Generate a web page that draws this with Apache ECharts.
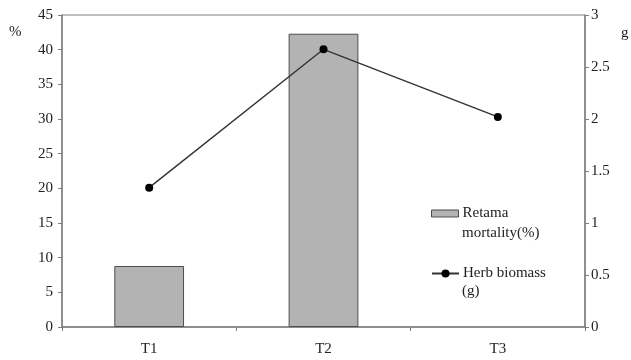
<!DOCTYPE html>
<html>
<head>
<meta charset="utf-8">
<script src="https://cdn.jsdelivr.net/npm/echarts@6/dist/echarts.min.js"></script>
<style>
  html, body { margin: 0; padding: 0; background: #fff; }
  #chart { width: 631px; height: 360px; }
</style>
</head>
<body>
<div id="chart"></div>
<script>
// Treatments along the x axis
const categories = ['T1', 'T2', 'T3'];
// Retama mortality (%), left axis
const mortality = [8.8, 42.3, null];
// Herb biomass (g), right axis
const biomass = [1.34, 2.67, 2.02];

const FONT = '"Liberation Serif", "DejaVu Serif", serif';
const FS = 15;
const axisGrey = '#7f7f7f';
const textColor = '#222';

const chart = echarts.init(document.getElementById('chart'), null, { renderer: 'canvas' });

chart.setOption({
  animation: false,
  backgroundColor: '#fff',
  grid: { left: 62, right: 46, top: 15, bottom: 33, show: true, borderColor: axisGrey, borderWidth: 1 },
  xAxis: {
    type: 'category',
    data: categories,
    axisLine: { lineStyle: { color: axisGrey, width: 1.5 } },
    axisTick: { show: true, alignWithLabel: false, length: 4, lineStyle: { color: axisGrey } },
    axisLabel: { color: textColor, fontFamily: FONT, fontSize: FS, margin: 15 },
    splitLine: { show: false }
  },
  yAxis: [
    {
      type: 'value', min: 0, max: 45, interval: 5,
      axisLine: { show: true, lineStyle: { color: axisGrey, width: 1.5 } },
      axisTick: { show: true, length: 4, lineStyle: { color: axisGrey } },
      axisLabel: { color: textColor, fontFamily: FONT, fontSize: FS, margin: 9 },
      splitLine: { show: false }
    },
    {
      type: 'value', min: 0, max: 3, interval: 0.5,
      axisLine: { show: true, lineStyle: { color: axisGrey, width: 1.5 } },
      axisTick: { show: true, length: 4, lineStyle: { color: axisGrey } },
      axisLabel: { color: textColor, fontFamily: FONT, fontSize: FS, margin: 6 },
      splitLine: { show: false }
    }
  ],
  legend: [
    {
      left: 431, top: 206, padding: 0, itemWidth: 27, itemHeight: 7, itemGap: 0,
      data: [{ name: 'Retama mortality(%)', icon: 'rect' }],
      formatter: () => 'Retama',
      itemStyle: { borderWidth: 1, borderColor: '#4d4d4d' },
      textStyle: { color: textColor, fontFamily: FONT, fontSize: FS, padding: [0, 0, 0, -1] }
    },
    {
      left: 431, top: 266, padding: 0, itemWidth: 27, itemHeight: 10, itemGap: 0,
      data: [{ name: 'Herb biomass (g)' }],
      formatter: () => 'Herb biomass',
      textStyle: { color: textColor, fontFamily: FONT, fontSize: FS, padding: [0, 0, 0, -1] }
    }
  ],
  graphic: [
    { type: 'text', left: 9, top: 25, style: { text: '%', font: FS + 'px ' + FONT, fill: textColor } },
    { type: 'text', left: 621, top: 26, style: { text: 'g', font: FS + 'px ' + FONT, fill: textColor } },
    { type: 'text', left: 462, top: 226, style: { text: 'mortality(%)', font: FS + 'px ' + FONT, fill: textColor } },
    { type: 'text', left: 462, top: 284, style: { text: '(g)', font: FS + 'px ' + FONT, fill: textColor } }
  ],
  series: [
    {
      name: 'Retama mortality(%)',
      type: 'bar',
      yAxisIndex: 0,
      data: mortality,
      barWidth: '40%',
      itemStyle: { color: '#b3b3b3', borderColor: '#4d4d4d', borderWidth: 1 }
    },
    {
      name: 'Herb biomass (g)',
      type: 'line',
      yAxisIndex: 1,
      data: biomass,
      symbol: 'circle',
      symbolSize: 8,
      lineStyle: { color: '#333', width: 1.4 },
      itemStyle: { color: '#000' }
    }
  ]
});
</script>
</body>
</html>
